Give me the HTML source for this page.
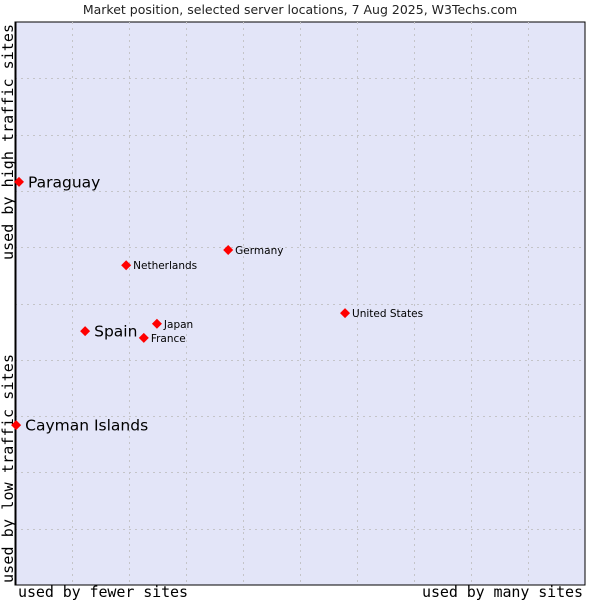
<!DOCTYPE html>
<html><head><meta charset="utf-8"><style>
html,body{margin:0;padding:0;background:#fff;}
svg{display:block;}
</style></head><body>
<svg id="chart" width="600" height="600" xmlns="http://www.w3.org/2000/svg">
<rect x="0" y="0" width="600" height="600" fill="#fff"/>
<text x="300" y="14" text-anchor="middle" font-family="DejaVu Sans, sans-serif" font-size="12.5" fill="#222">Market position, selected server locations, 7 Aug 2025, W3Techs.com</text>
<rect x="15" y="22" width="570" height="563" fill="#e3e5f8" stroke="#000" stroke-width="1"/>
<g id="grid"></g>
<line x1="15.5" y1="22" x2="15.5" y2="585" stroke="#000" stroke-width="2"/>
<text x="18" y="597" textLength="170" font-family="DejaVu Sans Mono, monospace" font-size="15" fill="#000">used by fewer sites</text>
<text x="422" y="597" textLength="161" font-family="DejaVu Sans Mono, monospace" font-size="15" fill="#000">used by many sites</text>
<text transform="translate(13,583) rotate(-90)" textLength="229" font-family="DejaVu Sans Mono, monospace" font-size="15" fill="#000">used by low traffic sites</text>
<text transform="translate(13,260) rotate(-90)" textLength="236" font-family="DejaVu Sans Mono, monospace" font-size="15" fill="#000">used by high traffic sites</text>
<g id="points"></g>
</svg>
<script>
const locations = ["Paraguay","Cayman Islands","Spain","Netherlands","Germany","Japan","France","United States"];
const xValues = [0.7, 0.2, 12.3, 19.5, 37.4, 24.9, 22.6, 57.9];
const yValues = [71.6, 28.4, 45.1, 56.8, 59.5, 46.4, 43.9, 48.3];
const highlighted = [true, true, true, false, false, false, false, false];
const X0=15, X1=585, Y0=22, Y1=585;
function xs(v){return X0+(X1-X0)*v/100;}
function ys(v){return Y1-(Y1-Y0)*v/100;}
const NS="http://www.w3.org/2000/svg";
const grid=document.getElementById('grid');
for(let i=1;i<10;i++){
  const vx=document.createElementNS(NS,'line');
  
  
  const gx=Math.round(xs(i*10))+0.5;
  vx.setAttribute('x1',gx);vx.setAttribute('x2',gx);vx.setAttribute('y1',Y0);vx.setAttribute('y2',Y1);
  vx.setAttribute('stroke','#c4c4c8');vx.setAttribute('stroke-dasharray','2,4');
  grid.appendChild(vx);
  const hz=document.createElementNS(NS,'line');
  
  
  const gy=Math.round(ys(i*10))+0.5;
  hz.setAttribute('x1',X0);hz.setAttribute('x2',X1);hz.setAttribute('y1',gy);hz.setAttribute('y2',gy);
  hz.setAttribute('stroke','#c4c4c8');hz.setAttribute('stroke-dasharray','2,4');
  grid.appendChild(hz);
}
const pts=document.getElementById('points');
locations.forEach((name,i)=>{
  const cx=xs(xValues[i]), cy=ys(yValues[i]);
  const d=document.createElementNS(NS,'path');
  
  
  d.setAttribute('d',`M${cx} ${cy-5}L${cx+5} ${cy}L${cx} ${cy+5}L${cx-5} ${cy}Z`);
  d.setAttribute('fill','#f00');
  pts.appendChild(d);
  const t=document.createElementNS(NS,'text');
  
  
  const big=highlighted[i];
  t.setAttribute('x',cx+(big?9:7));
  t.setAttribute('y',cy+(big?5.5:4));
  t.setAttribute('font-family','DejaVu Sans, sans-serif');
  t.setAttribute('font-size',big?'15.5':'10.5');
  t.setAttribute('fill','#000');
  t.textContent=name;
  pts.appendChild(t);
});
</script>
</body></html>
